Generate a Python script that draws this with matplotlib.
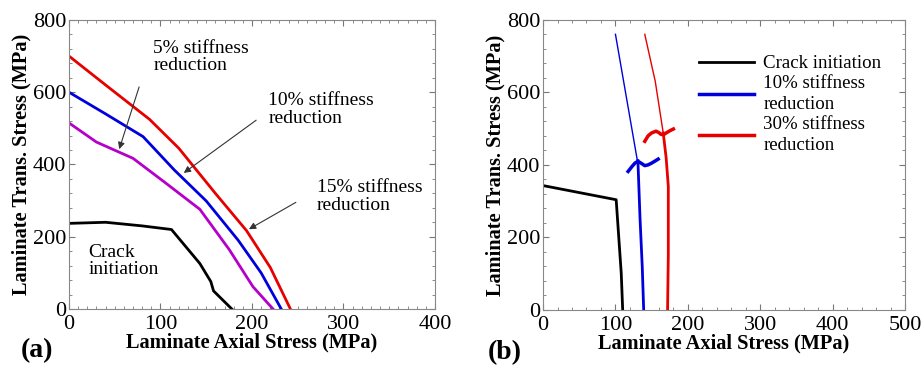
import numpy as np
import matplotlib
matplotlib.use("Agg")
import matplotlib.pyplot as plt
from matplotlib.ticker import MultipleLocator

plt.rcParams['font.family'] = ['Liberation Serif', 'DejaVu Serif']

# (a) failure envelopes: axial stress vs transverse stress, MPa
crack_a_x = [0, 40, 80, 112, 143, 155, 158, 178]
crack_a_y = [237, 240, 230, 220, 126, 76, 50, 0]
red_a_x = [0, 40, 88, 120, 160, 194, 220, 242]
red_a_y = [700, 620, 525, 445, 320, 217, 115, 0]
blue_a_x = [0, 40, 81, 115, 150, 185, 210, 232]
blue_a_y = [600, 540, 477, 385, 299, 190, 100, 0]
mag_a_x = [0, 30, 70, 105, 143, 175, 201, 223]
mag_a_y = [515, 462, 417, 350, 276, 165, 62, 0]

# (b) envelopes
crack_b_x = [0, 101, 108, 110]
crack_b_y = [343, 304, 101, 0]
blue_thin_x = [100, 130]
blue_thin_y = [760, 415]
blue_thick_x = [131, 134, 137, 139]
blue_thick_y = [412, 250, 120, 0]
blue_curl_x = [117.5, 123, 127, 131, 136, 140.5, 145, 150, 155, 159]
blue_curl_y = [382, 396, 405, 410, 404, 398, 400, 405, 411, 416]
red_thin_x = [140.5, 155, 166]
red_thin_y = [760, 630, 488]
red_thick_x = [166, 170, 173, 173, 172]
red_thick_y = [488, 420, 341, 150, 0]
red_curl_x = [140.5, 145, 149.8, 156, 160, 163, 167, 170, 175, 180]
red_curl_y = [465, 480, 488, 493, 489, 484, 484, 488, 494, 499]

fig = plt.figure(figsize=(9.22, 3.65), dpi=100)
ax1 = fig.add_axes([0.0748, 0.1534, 0.397, 0.792])
ax2 = fig.add_axes([0.589, 0.1507, 0.3926, 0.795])

for ax in (ax1, ax2):
    ax.tick_params(which='both', direction='in', top=True, right=True,
                   colors='#777777', labelcolor='black', labelsize=16, pad=2)
    ax.tick_params(axis='x', which='major', pad=4)
    ax.tick_params(which='major', length=4)
    ax.tick_params(which='minor', length=2)
    for s in ax.spines.values():
        s.set_color('#888888')
        s.set_linewidth(0.8)
    ax.set_ylim(0, 800)
    ax.yaxis.set_major_locator(MultipleLocator(200))
    ax.yaxis.set_minor_locator(MultipleLocator(40))
    ax.set_xlabel('Laminate Axial Stress (MPa)', fontsize=14.7, fontweight='bold', labelpad=-1)
    ax.set_ylabel('Laminate Trans. Stress (MPa)', fontsize=14.7, fontweight='bold', labelpad=1)

# panel (a)
ax1.plot(crack_a_x, crack_a_y, color='black', lw=2)
ax1.plot(red_a_x, red_a_y, color='#e60000', lw=2)
ax1.plot(blue_a_x, blue_a_y, color='#0000dd', lw=2)
ax1.plot(mag_a_x, mag_a_y, color='#b400c8', lw=2)
ax1.set_xlim(0, 400)
ax1.xaxis.set_major_locator(MultipleLocator(100))
ax1.xaxis.set_minor_locator(MultipleLocator(10))

arrow = dict(arrowstyle='-|>', color='#333333', lw=0.8, mutation_scale=10)
ax1.annotate('', xy=(54, 435), xytext=(77.6, 622), arrowprops=arrow)
ax1.annotate('', xy=(123, 372), xytext=(207, 527), arrowprops=arrow)
ax1.annotate('', xy=(194, 217), xytext=(250.6, 299), arrowprops=arrow)
ax1.text(92, 745, '5% stiffness\nreduction', fontsize=14, ha='left', va='top', linespacing=1.05)
ax1.text(218, 600, '10% stiffness\nreduction', fontsize=14, ha='left', va='top', linespacing=1.05)
ax1.text(271, 359, '15% stiffness\nreduction', fontsize=14, ha='left', va='top', linespacing=1.05)
ax1.text(21, 181, 'Crack\ninitiation', fontsize=14, ha='left', va='top', linespacing=1.05)

# panel (b)
ax2.plot(crack_b_x, crack_b_y, color='black', lw=2, label='Crack initiation')
ax2.plot(blue_thin_x, blue_thin_y, color='#0000dd', lw=1)
ax2.plot(blue_thick_x, blue_thick_y, color='#0000dd', lw=2)
ax2.plot(blue_curl_x, blue_curl_y, color='#0000dd', lw=2.5,
         label='10% stiffness\nreduction')
ax2.plot(red_thin_x, red_thin_y, color='#e60000', lw=1)
ax2.plot(red_thick_x, red_thick_y, color='#e60000', lw=2)
ax2.plot(red_curl_x, red_curl_y, color='#e60000', lw=2.5,
         label='30% stiffness\nreduction')
ax2.set_xlim(0, 500)
ax2.xaxis.set_major_locator(MultipleLocator(100))
ax2.xaxis.set_minor_locator(MultipleLocator(20))
leg = ax2.legend(loc='upper left', bbox_to_anchor=(0.41, 0.905), frameon=False,
                 fontsize=13.6, handlelength=2.9, handletextpad=0.5,
                 labelspacing=0.15, borderaxespad=0)
for t in leg.get_texts():
    t.set_linespacing(1.3)

fig.text(0.022, 0.006, '(a)', fontsize=20, fontweight='bold', va='bottom')
fig.text(0.529, 0.001, '(b)', fontsize=20, fontweight='bold', va='bottom')

fig.savefig('out.png', dpi=100)
